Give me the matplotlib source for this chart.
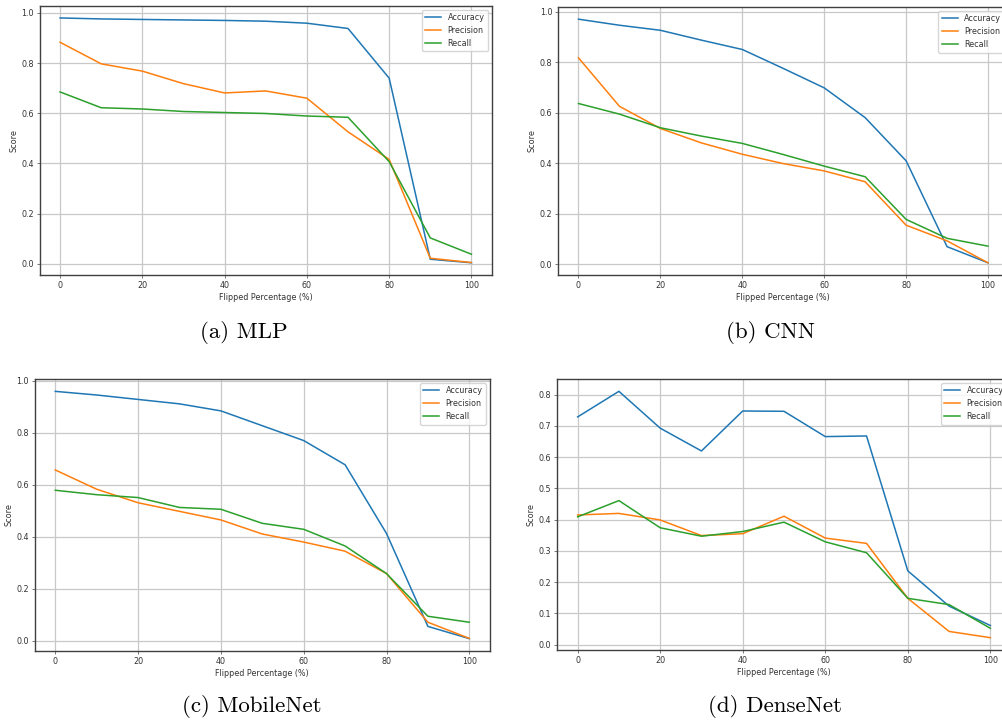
import matplotlib
matplotlib.use("Agg")
import matplotlib.pyplot as plt

flipped = [0, 10, 20, 30, 40, 50, 60, 70, 80, 90, 100]

mlp_acc = [0.980, 0.976, 0.974, 0.972, 0.970, 0.967, 0.959, 0.938, 0.740, 0.018, 0.004]
mlp_prec = [0.883, 0.797, 0.768, 0.718, 0.681, 0.689, 0.660, 0.526, 0.416, 0.022, 0.005]
mlp_rec = [0.685, 0.622, 0.617, 0.607, 0.603, 0.599, 0.589, 0.584, 0.407, 0.103, 0.038]

cnn_acc = [0.970, 0.946, 0.926, 0.887, 0.850, 0.775, 0.698, 0.580, 0.409, 0.069, 0.005]
cnn_prec = [0.817, 0.625, 0.537, 0.480, 0.435, 0.398, 0.369, 0.326, 0.154, 0.092, 0.005]
cnn_rec = [0.636, 0.594, 0.540, 0.507, 0.478, 0.434, 0.388, 0.346, 0.177, 0.102, 0.071]

mob_acc = [0.959, 0.945, 0.928, 0.911, 0.884, 0.827, 0.770, 0.677, 0.413, 0.056, 0.009]
mob_prec = [0.657, 0.583, 0.531, 0.498, 0.465, 0.411, 0.380, 0.345, 0.259, 0.072, 0.010]
mob_rec = [0.579, 0.562, 0.551, 0.513, 0.506, 0.452, 0.429, 0.365, 0.259, 0.095, 0.072]

dense_acc = [0.729, 0.811, 0.693, 0.620, 0.748, 0.747, 0.666, 0.668, 0.236, 0.123, 0.061]
dense_prec = [0.415, 0.420, 0.399, 0.349, 0.355, 0.411, 0.341, 0.324, 0.148, 0.042, 0.022]
dense_rec = [0.409, 0.461, 0.374, 0.347, 0.362, 0.392, 0.329, 0.294, 0.148, 0.128, 0.052]

captions = ["(a) MLP", "(b) CNN", "(c) MobileNet", "(d) DenseNet"]

# scaled-down look of a screenshot of default matplotlib output
s = 0.58
plt.rcParams.update({
    "font.size": 10 * s,
    "lines.linewidth": 1.1,
    "axes.linewidth": 1.0,
    "axes.edgecolor": "#404040",
    "grid.linewidth": 0.9,
    "grid.color": "#c8c8c8",
    "xtick.major.size": 3.5 * s,
    "ytick.major.size": 3.5 * s,
    "xtick.major.width": 0.8 * s,
    "ytick.major.width": 0.8 * s,
    "xtick.major.pad": 3.5 * s,
    "ytick.major.pad": 3.5 * s,
    "axes.labelpad": 4 * s,
    "text.color": "#333333",
    "xtick.color": "#333333",
    "ytick.color": "#333333",
    "axes.labelcolor": "#333333",
})

W, H = 1002, 725
fig = plt.figure(figsize=(W / 100, H / 100), dpi=100)

# pixel boxes: left, top, right, bottom
boxes = [
    (39.5, 5.7, 492, 275),
    (558, 7, 1008.5, 275),
    (34.6, 379, 490, 651),
    (557, 379, 1011, 650),
]
series = [
    (mlp_acc, mlp_prec, mlp_rec),
    (cnn_acc, cnn_prec, cnn_rec),
    (mob_acc, mob_prec, mob_rec),
    (dense_acc, dense_prec, dense_rec),
]
cap_pos = [(244, 332), (770, 332), (252, 706), (775, 706)]

for (l, t, r, b), (acc, prec, rec), cap, (cx, cy) in zip(boxes, series, captions, cap_pos):
    ax = fig.add_axes([l / W, 1 - b / H, (r - l) / W, (b - t) / H])
    ax.plot(flipped, acc, label="Accuracy")
    ax.plot(flipped, prec, label="Precision")
    ax.plot(flipped, rec, label="Recall")
    ax.set_xlabel("Flipped Percentage (%)")
    ax.set_ylabel("Score")
    ax.grid(True)
    ax.legend(loc="upper right")
    fig.text(cx / W, 1 - cy / H, cap, ha="center", va="center",
             family="cmr10", fontsize=16.5, color="black")

fig.savefig("out.png", dpi=100)
